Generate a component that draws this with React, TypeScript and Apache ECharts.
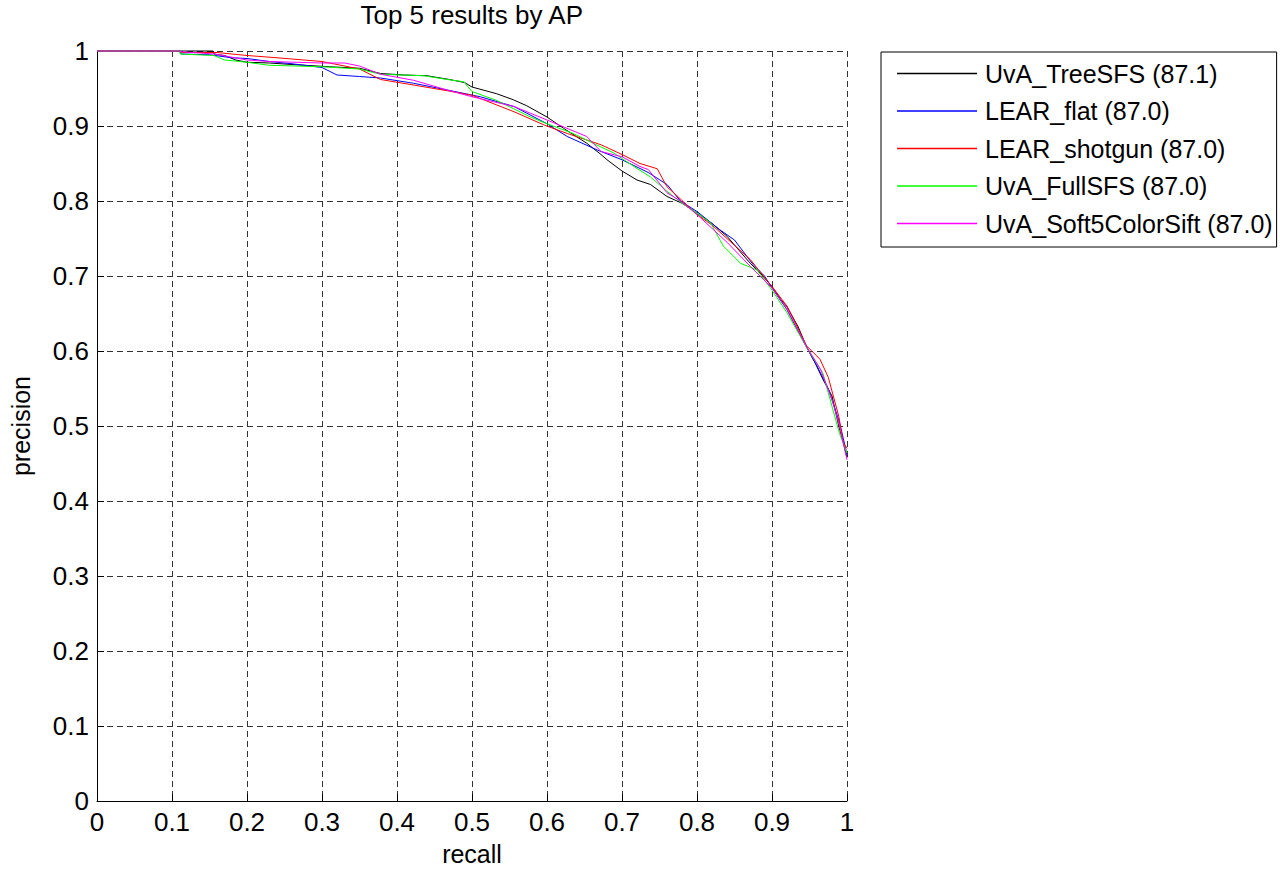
import React, { useEffect, useRef } from "react";
import * as echarts from "echarts";

const FONT = "'Liberation Sans', Arial, Helvetica, sans-serif";

const seriesNames = [
  "UvA_TreeSFS (87.1)",
  "LEAR_flat (87.0)",
  "LEAR_shotgun (87.0)",
  "UvA_FullSFS (87.0)",
  "UvA_Soft5ColorSift (87.0)",
];
const seriesColors = ["#000000", "#0000ff", "#ff0000", "#00ff00", "#ff00ff"];

// [recall, precision]
const uvaTreeSFS: number[][] = [
  [0, 1], [0.155, 1], [0.156, 0.996], [0.17, 0.994], [0.185, 0.988], [0.2, 0.985],
  [0.23, 0.984], [0.26, 0.982], [0.31, 0.979], [0.35, 0.977], [0.378, 0.97], [0.41, 0.968],
  [0.44, 0.967], [0.47, 0.962], [0.49, 0.958], [0.5, 0.952], [0.533, 0.943], [0.555, 0.935],
  [0.573, 0.927], [0.6, 0.912], [0.622, 0.897], [0.653, 0.877], [0.672, 0.862], [0.68, 0.855],
  [0.7, 0.84], [0.72, 0.828], [0.738, 0.822], [0.76, 0.806], [0.78, 0.797], [0.8, 0.784],
  [0.82, 0.77], [0.84, 0.753], [0.858, 0.732], [0.871, 0.717], [0.885, 0.703], [0.9, 0.686],
  [0.912, 0.668], [0.92, 0.659], [0.935, 0.632], [0.946, 0.606], [0.958, 0.583], [0.968, 0.562],
  [0.98, 0.54], [0.989, 0.5], [0.995, 0.478], [1.0, 0.458],
];
const learFlat: number[][] = [
  [0, 1], [0.11, 1], [0.112, 0.996], [0.15, 0.995], [0.18, 0.991], [0.2, 0.99],
  [0.23, 0.986], [0.26, 0.983], [0.3, 0.978], [0.32, 0.968], [0.35, 0.966], [0.378, 0.964],
  [0.422, 0.957], [0.467, 0.948], [0.511, 0.939], [0.556, 0.926], [0.6, 0.903], [0.627, 0.886],
  [0.667, 0.868], [0.7, 0.855], [0.735, 0.838], [0.76, 0.822], [0.778, 0.8], [0.8, 0.786],
  [0.83, 0.762], [0.85, 0.748], [0.875, 0.715], [0.89, 0.7], [0.9, 0.684], [0.92, 0.655],
  [0.946, 0.605], [0.96, 0.58], [0.975, 0.55], [0.99, 0.505], [1.0, 0.462],
];
const learShotgun: number[][] = [
  [0, 1], [0.11, 1], [0.113, 0.998], [0.16, 0.998], [0.2, 0.994], [0.24, 0.991],
  [0.3, 0.986], [0.35, 0.976], [0.378, 0.962], [0.42, 0.955], [0.467, 0.947], [0.5, 0.941],
  [0.556, 0.919], [0.597, 0.901], [0.627, 0.89], [0.672, 0.875], [0.7, 0.862], [0.724, 0.85],
  [0.747, 0.843], [0.755, 0.828], [0.76, 0.819], [0.782, 0.799], [0.8, 0.782], [0.82, 0.768],
  [0.84, 0.75], [0.871, 0.722], [0.9, 0.686], [0.92, 0.66], [0.946, 0.607], [0.964, 0.589],
  [0.975, 0.565], [0.989, 0.513], [0.995, 0.478], [1.0, 0.47],
];
const uvaFullSFS: number[][] = [
  [0, 1], [0.11, 1], [0.111, 0.996], [0.156, 0.994], [0.17, 0.988], [0.2, 0.985],
  [0.229, 0.981], [0.3, 0.979], [0.35, 0.976], [0.378, 0.969], [0.436, 0.967], [0.467, 0.962],
  [0.489, 0.959], [0.5, 0.946], [0.533, 0.934], [0.578, 0.912], [0.6, 0.903], [0.635, 0.89],
  [0.672, 0.872], [0.689, 0.864], [0.716, 0.846], [0.738, 0.832], [0.76, 0.813], [0.78, 0.797],
  [0.8, 0.784], [0.818, 0.771], [0.835, 0.74], [0.858, 0.717], [0.88, 0.708], [0.9, 0.681],
  [0.92, 0.651], [0.946, 0.605], [0.968, 0.57], [0.98, 0.526], [0.99, 0.49], [1.0, 0.464],
];
const uvaSoft5ColorSift: number[][] = [
  [0, 1], [0.11, 1], [0.112, 0.999], [0.157, 0.996], [0.2, 0.988], [0.23, 0.986],
  [0.3, 0.984], [0.33, 0.984], [0.35, 0.98], [0.378, 0.969], [0.422, 0.961], [0.467, 0.948],
  [0.5, 0.939], [0.556, 0.926], [0.6, 0.908], [0.653, 0.886], [0.672, 0.866], [0.7, 0.859],
  [0.724, 0.846], [0.735, 0.842], [0.76, 0.811], [0.778, 0.8], [0.8, 0.782], [0.84, 0.745],
  [0.871, 0.713], [0.9, 0.684], [0.92, 0.656], [0.946, 0.606], [0.965, 0.575], [0.98, 0.535],
  [0.99, 0.5], [1.0, 0.455],
];

const seriesData = [uvaTreeSFS, learFlat, learShotgun, uvaFullSFS, uvaSoft5ColorSift];

const titleText = "Top 5 results by AP";
const xName = "recall";
const yName = "precision";

export default function App() {
  const ref = useRef<HTMLDivElement>(null);
  useEffect(() => {
    if (!ref.current) return;
    const chart = echarts.init(ref.current, null, { renderer: "svg" });
    const axisCommon = {
      type: "value" as const,
      min: 0,
      max: 1,
      interval: 0.1,
      axisLine: { show: true, onZero: false, lineStyle: { color: "#000", width: 1 } },
      axisTick: { show: true, inside: true, length: 7, lineStyle: { color: "#000" } },
      splitLine: { show: true, lineStyle: { color: "#333", width: 1, type: [6, 4] } },
      axisLabel: {
        color: "#000",
        fontSize: 26,
        fontFamily: FONT,
        formatter: (v: number) => (v === 0 ? "0" : v === 1 ? "1" : v.toFixed(1)),
      },
      nameLocation: "middle" as const,
      nameTextStyle: { color: "#000", fontSize: 25, fontFamily: FONT },
    };
    chart.setOption({
      animation: false,
      backgroundColor: "#ffffff",
      title: {
        text: titleText,
        left: 471.7,
        textAlign: "center",
        top: 2,
        padding: 0,
        textStyle: { color: "#000", fontSize: 26, fontWeight: "normal", fontFamily: FONT },
      },
      grid: { left: 96, top: 51, width: 751, height: 751, containLabel: false },
      xAxis: {
        ...axisCommon,
        name: xName,
        nameGap: 40,
        axisLabel: { ...axisCommon.axisLabel, margin: 8 },
      },
      yAxis: {
        ...axisCommon,
        name: yName,
        nameGap: 64,
        axisLabel: { ...axisCommon.axisLabel, margin: 8 },
      },
      legend: {
        orient: "vertical",
        left: 881,
        top: 52,
        padding: [9, 4, 11, 16],
        icon: "rect",
        itemWidth: 80,
        itemHeight: 1.5,
        itemGap: 12.5,
        borderColor: "#000",
        borderWidth: 1,
        backgroundColor: "#fff",
        selectedMode: false,
        itemStyle: { borderWidth: 0 },
        textStyle: { color: "#000", fontSize: 25, fontFamily: FONT, lineHeight: 25, padding: [0, 0, 0, 3] },
        data: seriesNames.map((n, i) => ({
          name: n,
          itemStyle: { color: seriesColors[i], borderWidth: 0, opacity: 1 },
        })),
      },
      series: seriesData.map((d, i) => ({
        name: seriesNames[i],
        type: "line",
        data: d,
        symbol: "none",
        showSymbol: false,
        color: seriesColors[i],
        itemStyle: { color: seriesColors[i] },
        lineStyle: { color: seriesColors[i], width: 1 },
        silent: true,
        clip: false,
        z: 3 + i,
      })),
    });
    return () => chart.dispose();
  }, []);
  return (
    <div
      ref={ref}
      style={{ position: "fixed", left: 0, top: 0, width: 1280, height: 871, background: "#fff" }}
    />
  );
}
